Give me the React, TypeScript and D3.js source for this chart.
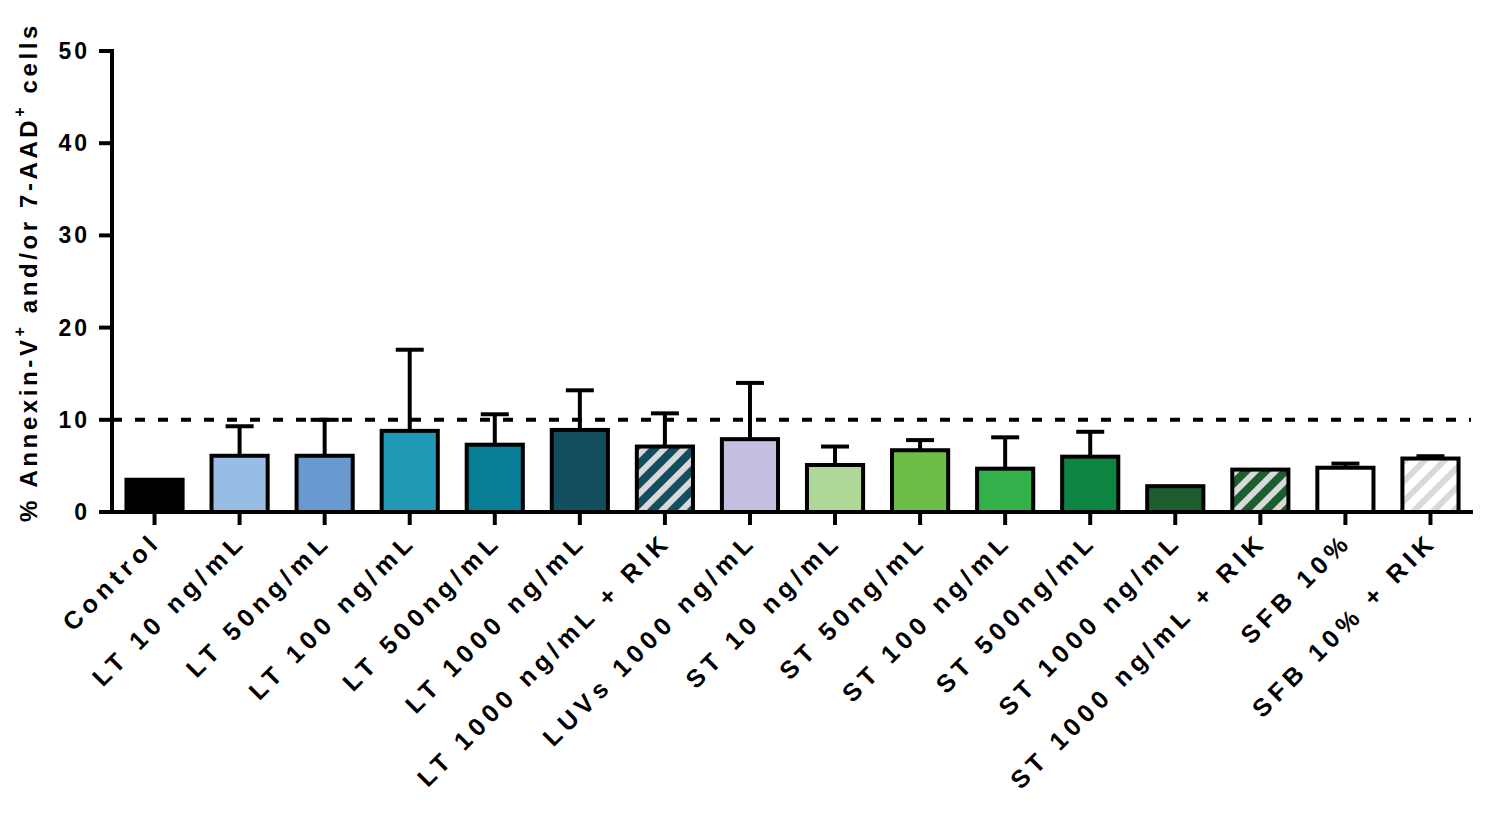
import * as d3 from 'd3';

const categories = [
  'Control',
  'LT 10 ng/mL',
  'LT 50ng/mL',
  'LT 100 ng/mL',
  'LT 500ng/mL',
  'LT 1000 ng/mL',
  'LT 1000 ng/mL + RIK',
  'LUVs 1000 ng/mL',
  'ST 10 ng/mL',
  'ST 50ng/mL',
  'ST 100 ng/mL',
  'ST 500ng/mL',
  'ST 1000 ng/mL',
  'ST 1000 ng/mL + RIK',
  'SFB 10%',
  'SFB 10% + RIK',
];
const means = [3.5, 6.1, 6.1, 8.8, 7.3, 8.9, 7.1, 7.9, 5.1, 6.7, 4.7, 6.0, 2.8, 4.6, 4.8, 5.8];
const errors = [0, 3.2, 3.9, 8.8, 3.3, 4.3, 3.6, 6.1, 2.0, 1.1, 3.4, 2.7, 0, 0, 0.45, 0.25];
const barColors = [
  '#000000', '#98bde5', '#6899cf', '#2199b4', '#087d96', '#134e60', '#134e60', '#c3bfe0',
  '#afd898', '#6cbd45', '#32b14a', '#0d8442', '#1c5e2e', '#1c5e2e', '#ffffff', '#ffffff',
];
const hatched = [false, false, false, false, false, false, true, false, false, false, false, false, false, true, false, true];
const yTicks = [0, 10, 20, 30, 40, 50];
const threshold = 10;

const W = 1500;
const H = 814;
const left = 112;
const right = 1473;
const top = 51;
const bottom = 512;
const font = "'Liberation Sans', Arial, sans-serif";

export default function App() {
  const x = d3.scaleBand<string>().domain(categories).range([left, right]).paddingInner(0.34).paddingOuter(0.17);
  const y = d3.scaleLinear().domain([0, 50]).range([bottom, top]);
  const bw = x.bandwidth();
  const cx = (c: string) => (x(c) ?? 0) + bw / 2;

  return (
    <svg width={W} height={H} style={{ position: 'absolute', left: 0, top: 0, background: '#fff' }}>
      <defs>
        {categories.map((c, i) =>
          hatched[i] ? (
            <pattern
              key={c}
              id={`hatch-${i}`}
              patternUnits="userSpaceOnUse"
              width={14}
              height={14}
              patternTransform="rotate(45)"
            >
              <rect width={14} height={14} fill={barColors[i]} />
              <rect width={6} height={14} fill="#d9d9d9" />
            </pattern>
          ) : null
        )}
      </defs>

      {/* error bars (upper only) */}
      {categories.map((c, i) =>
        errors[i] > 0 ? (
          <g key={c} stroke="#000" strokeWidth={4}>
            <line x1={cx(c)} x2={cx(c)} y1={y(means[i])} y2={y(means[i] + errors[i])} />
            <line x1={cx(c) - 14} x2={cx(c) + 14} y1={y(means[i] + errors[i])} y2={y(means[i] + errors[i])} />
          </g>
        ) : null
      )}

      {/* bars */}
      {categories.map((c, i) => (
        <rect
          key={c}
          x={x(c)}
          y={y(means[i])}
          width={bw}
          height={y(0) - y(means[i])}
          fill={hatched[i] ? `url(#hatch-${i})` : barColors[i]}
          stroke="#000"
          strokeWidth={4}
        />
      ))}

      {/* threshold line */}
      <line
        x1={left}
        x2={right - 2}
        y1={y(threshold)}
        y2={y(threshold)}
        stroke="#000"
        strokeWidth={4}
        strokeDasharray="10,13"
      />

      {/* y axis */}
      <line x1={left} x2={left} y1={top - 2} y2={bottom + 2} stroke="#000" strokeWidth={4} />
      {yTicks.map((t) => (
        <g key={t}>
          <line x1={left - 13} x2={left} y1={y(t)} y2={y(t)} stroke="#000" strokeWidth={4} />
          <text
            x={90}
            y={y(t)}
            textAnchor="end"
            dominantBaseline="central"
            fontFamily={font}
            fontWeight="bold"
            fontSize={23}
            letterSpacing={3}
          >
            {t}
          </text>
        </g>
      ))}

      {/* x axis */}
      <line x1={left - 2} x2={right} y1={bottom} y2={bottom} stroke="#000" strokeWidth={4} />
      {categories.map((c) => (
        <g key={c}>
          <line x1={cx(c)} x2={cx(c)} y1={bottom} y2={bottom + 13} stroke="#000" strokeWidth={4} />
          <text
            transform={`translate(${cx(c) + 8},543) rotate(-45)`}
            textAnchor="end"
            fontFamily={font}
            fontWeight="bold"
            fontSize={25}
            letterSpacing={5.4}
          >
            {c}
          </text>
        </g>
      ))}

      {/* y axis title */}
      <text
        transform="translate(37,272) rotate(-90)"
        textAnchor="middle"
        fontFamily={font}
        fontWeight="bold"
        fontSize={24}
        letterSpacing={3.6}
      >
        % Annexin-V
        <tspan dy={-12} fontSize={16}>+</tspan>
        <tspan dy={12}> and/or 7-AAD</tspan>
        <tspan dy={-12} fontSize={16}>+</tspan>
        <tspan dy={12}> cells</tspan>
      </text>
    </svg>
  );
}
